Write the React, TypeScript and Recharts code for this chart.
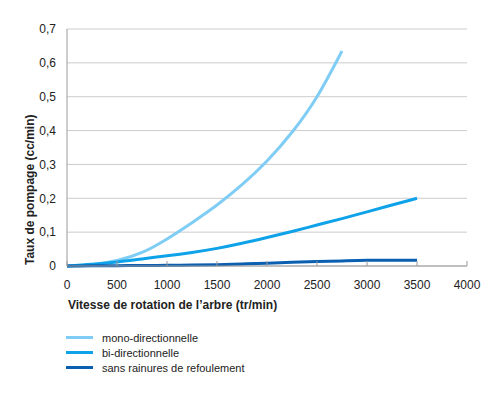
import React from 'react';
import { LineChart, Line, XAxis, YAxis, CartesianGrid } from 'recharts';

const speeds = [0, 250, 500, 750, 1000, 1250, 1500, 1750, 2000, 2250, 2500, 2750, 3000, 3250, 3500];
const mono = [0, 0.004, 0.016, 0.04, 0.08, 0.128, 0.18, 0.24, 0.31, 0.395, 0.50, 0.635, null, null, null];
const bi = [0, 0.005, 0.012, 0.021, 0.03, 0.04, 0.052, 0.067, 0.084, 0.102, 0.121, 0.14, 0.16, 0.18, 0.2];
const sans = [0, 0.0005, 0.001, 0.0015, 0.002, 0.003, 0.004, 0.006, 0.008, 0.011, 0.013, 0.015, 0.017, 0.017, 0.017];

const xTicks = [0, 500, 1000, 1500, 2000, 2500, 3000, 3500, 4000];
const yTicks = [0, 0.1, 0.2, 0.3, 0.4, 0.5, 0.6, 0.7];

const seriesNames = ['mono-directionnelle', 'bi-directionnelle', 'sans rainures de refoulement'];
const colors = ['#7fcdf5', '#0ea2e8', '#0a5fb0'];

const data = speeds.map((s, i) => ({ speed: s, mono: mono[i], bi: bi[i], sans: sans[i] }));

const FONT = '"Liberation Sans", Arial, sans-serif';

const fmt = (v: number) => (v === 0 ? '0' : v.toFixed(1).replace('.', ','));

export default function App() {
  return (
    <div style={{ position: 'absolute', left: 0, top: 0, width: 503, height: 395, background: '#fff' }}>
      <LineChart width={503} height={395} data={data} margin={{ top: 29, right: 36, left: 0, bottom: 89 }}>
        <CartesianGrid horizontal vertical={false} stroke="#cccccc" strokeWidth={1} />
        <XAxis
          dataKey="speed"
          type="number"
          domain={[0, 4000]}
          ticks={xTicks}
          height={40}
          stroke="#9a9a9a"
          tickSize={-5}
          tickMargin={19}
          tick={{ fill: '#222', fontSize: 12, fontFamily: FONT }}
          label={{
            content: () => (
              <text x={68} y={309} fontFamily={FONT} fontSize={12} fontWeight="bold" fill="#222">
                Vitesse de rotation de l’arbre (tr/min)
              </text>
            ),
          }}
        />
        <YAxis
          type="number"
          domain={[0, 0.7]}
          ticks={yTicks}
          width={67}
          stroke="#9a9a9a"
          tickLine={false}
          tickMargin={5}
          tickFormatter={fmt}
          tick={{ fill: '#222', fontSize: 12, fontFamily: FONT }}
          label={{
            content: () => (
              <text
                x={34}
                y={265}
                transform="rotate(-90, 34, 265)"
                fontFamily={FONT}
                fontSize={12}
                fontWeight="bold"
                fill="#222"
              >
                Taux de pompage (cc/min)
              </text>
            ),
          }}
        />
        <Line dataKey="mono" name={seriesNames[0]} type="natural" stroke={colors[0]} strokeWidth={3} dot={false} isAnimationActive={false} />
        <Line dataKey="bi" name={seriesNames[1]} type="natural" stroke={colors[1]} strokeWidth={3} dot={false} isAnimationActive={false} />
        <Line dataKey="sans" name={seriesNames[2]} type="natural" stroke={colors[2]} strokeWidth={3} dot={false} isAnimationActive={false} />
      </LineChart>
      <div style={{ position: 'absolute', left: 66, top: 330, fontFamily: FONT, fontSize: 11, color: '#222' }}>
        {seriesNames.map((n, i) => (
          <div key={n} style={{ display: 'flex', alignItems: 'center', height: 15 }}>
            <div style={{ width: 27, height: 3, background: colors[i], marginRight: 9 }} />
            <span>{n}</span>
          </div>
        ))}
      </div>
    </div>
  );
}
